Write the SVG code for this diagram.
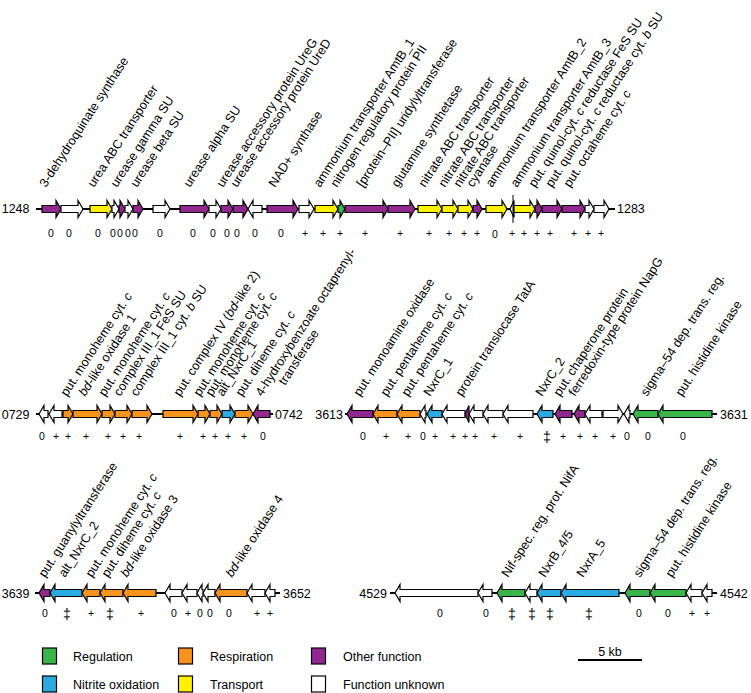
<svg xmlns="http://www.w3.org/2000/svg" width="751" height="693" viewBox="0 0 751 693">
<style>
.g{stroke:#000;stroke-width:1.2;stroke-linejoin:miter}
.cp{fill:#92278f}.co{fill:#f7941d}.cy{fill:#fff200}.cg{fill:#39b54a}.cb{fill:#29abe2}.cw{fill:#fff}
.bb{stroke:#000;stroke-width:2;fill:none}
.tk{stroke:#000;stroke-width:1;fill:none}
text{font-family:"Liberation Sans",Arial,sans-serif;fill:#000}
.lb{font-size:12.6px}
.num{font-size:10.5px;text-anchor:middle}
.dg{font-size:14px;text-anchor:middle}
.s{font-size:12.5px}
.e{text-anchor:end}
.it{font-style:italic}
</style>
<rect width="751" height="693" fill="#fff"/>
<g id="connectors">
<line class="bb" x1="36" y1="209" x2="615" y2="209"/>
<line class="bb" x1="36" y1="414" x2="273" y2="414"/>
<line class="bb" x1="345" y1="414" x2="717" y2="414"/>
<line class="bb" x1="35" y1="593" x2="280" y2="593"/>
<line class="bb" x1="390" y1="593" x2="717" y2="593"/>
</g>
<g id="row1">
<g id="r1g1"><path class="g cp" d="M42 205.5H56V200.5L61 209L56 217.5V212.5H42Z"/></g>
<g id="r1g2"><path class="g cw" d="M61 205.5H78V200.5L83 209L78 217.5V212.5H61Z"/></g>
<g id="r1g3"><path class="g cy" d="M90 205.5H107V200.5L112 209L107 217.5V212.5H90Z"/></g>
<g id="r1g4"><path class="g cw" d="M112 205.5H114V200.5L119 209L114 217.5V212.5H112Z"/></g>
<g id="r1g5"><path class="g cp" d="M119 205.5H120V200.5L125 209L120 217.5V212.5H119Z"/></g>
<g id="r1g6"><path class="g cw" d="M125 205.5H128V200.5L133 209L128 217.5V212.5H125Z"/></g>
<g id="r1g7"><path class="g cp" d="M133 205.5H138V200.5L143 209L138 217.5V212.5H133Z"/></g>
<g id="r1g8"><path class="g cw" d="M153 205.5H165V200.5L170 209L165 217.5V212.5H153Z"/></g>
<g id="r1g9"><path class="g cp" d="M180 205.5H204V200.5L209 209L204 217.5V212.5H180Z"/></g>
<g id="r1g10"><path class="g cw" d="M209 205.5H216V200.5L221 209L216 217.5V212.5H209Z"/></g>
<g id="r1g11"><path class="g cp" d="M221 205.5H228V200.5L233 209L228 217.5V212.5H221Z"/></g>
<g id="r1g12"><path class="g cp" d="M233 205.5H243V200.5L248 209L243 217.5V212.5H233Z"/></g>
<g id="r1g13"><path class="g cw" d="M262 205.5H253V200.5L248 209L253 217.5V212.5H262Z"/></g>
<g id="r1g14"><path class="g cp" d="M267 205.5H293V200.5L298 209L293 217.5V212.5H267Z"/></g>
<g id="r1g15"><path class="g cw" d="M299 205.5H309V200.5L314 209L309 217.5V212.5H299Z"/></g>
<g id="r1g16"><path class="g cy" d="M315 205.5H333V200.5L338 209L333 217.5V212.5H315Z"/></g>
<g id="r1g17"><path class="g cg" d="M338 205.5H340V200.5L345 209L340 217.5V212.5H338Z"/></g>
<g id="r1g18"><path class="g cp" d="M345 205.5H383V200.5L388 209L383 217.5V212.5H345Z"/></g>
<g id="r1g19"><path class="g cp" d="M388 205.5H410V200.5L415 209L410 217.5V212.5H388Z"/></g>
<g id="r1g20"><path class="g cy" d="M418 205.5H437V200.5L442 209L437 217.5V212.5H418Z"/></g>
<g id="r1g21"><path class="g cy" d="M442 205.5H453V200.5L458 209L453 217.5V212.5H442Z"/></g>
<g id="r1g22"><path class="g cy" d="M458 205.5H468V200.5L473 209L468 217.5V212.5H458Z"/></g>
<g id="r1g23"><path class="g cp" d="M473 205.5H477V200.5L482 209L477 217.5V212.5H473Z"/></g>
<g id="r1g24"><path class="g cy" d="M486 205.5H502V200.5L507 209L502 217.5V212.5H486Z"/></g>
<g id="r1g25"><path class="g cw" d="M514 200.5L510 209L514 217.5Z"/><line class="tk" x1="513" y1="195" x2="513" y2="223"/></g>
<g id="r1g26"><path class="g cy" d="M514 205.5H530V200.5L535 209L530 217.5V212.5H514Z"/></g>
<g id="r1g27"><path class="g cp" d="M535 205.5H537V200.5L542 209L537 217.5V212.5H535Z"/></g>
<g id="r1g28"><path class="g cp" d="M542 205.5H557V200.5L562 209L557 217.5V212.5H542Z"/></g>
<g id="r1g29"><path class="g cp" d="M562 205.5H580V200.5L585 209L580 217.5V212.5H562Z"/></g>
<g id="r1g30"><path class="g cw" d="M585 205.5H589V200.5L594 209L589 217.5V212.5H585Z"/></g>
<g id="r1g31"><path class="g cw" d="M594 205.5H604V200.5L609 209L604 217.5V212.5H594Z"/></g>
</g>
<g id="row2">
<g id="r2g1"><path class="g cw" d="M48 410.5H44V405.5L39 414L44 422.5V417.5H48Z"/></g>
<g id="r2g2"><path class="g cw" d="M62 410.5H54V405.5L49 414L54 422.5V417.5H62Z"/></g>
<g id="r2g3"><path class="g co" d="M63 410.5H68V405.5L73 414L68 422.5V417.5H63Z"/></g>
<g id="r2g4"><path class="g co" d="M73 410.5H97V405.5L102 414L97 422.5V417.5H73Z"/></g>
<g id="r2g5"><path class="g co" d="M102 410.5H110V405.5L115 414L110 422.5V417.5H102Z"/></g>
<g id="r2g6"><path class="g co" d="M115 410.5H127V405.5L132 414L127 422.5V417.5H115Z"/></g>
<g id="r2g7"><path class="g co" d="M132 410.5H147V405.5L152 414L147 422.5V417.5H132Z"/></g>
<g id="r2g8"><path class="g co" d="M163 410.5H193V405.5L198 414L193 422.5V417.5H163Z"/></g>
<g id="r2g9"><path class="g co" d="M198 410.5H205V405.5L210 414L205 422.5V417.5H198Z"/></g>
<g id="r2g10"><path class="g co" d="M210 410.5H217V405.5L222 414L217 422.5V417.5H210Z"/></g>
<g id="r2g11"><path class="g cb" d="M222 410.5H230V405.5L235 414L230 422.5V417.5H222Z"/></g>
<g id="r2g12"><path class="g co" d="M235 410.5H248V405.5L253 414L248 422.5V417.5H235Z"/></g>
<g id="r2g13"><path class="g cp" d="M270 410.5H258V405.5L253 414L258 422.5V417.5H270Z"/></g>
<g id="r2g14"><path class="g cp" d="M373 410.5H352V405.5L347 414L352 422.5V417.5H373Z"/></g>
<g id="r2g15"><path class="g co" d="M397 410.5H378V405.5L373 414L378 422.5V417.5H397Z"/></g>
<g id="r2g16"><path class="g co" d="M420 410.5H402V405.5L397 414L402 422.5V417.5H420Z"/></g>
<g id="r2g17"><path class="g cw" d="M426 410.5H425V405.5L420 414L425 422.5V417.5H426Z"/></g>
<g id="r2g18"><path class="g cb" d="M442 410.5H432V405.5L427 414L432 422.5V417.5H442Z"/></g>
<g id="r2g19"><path class="g cw" d="M465 410.5H447V405.5L442 414L447 422.5V417.5H465Z"/></g>
<g id="r2g20"><path class="g cp" d="M469 405.5L465 414L469 422.5Z"/></g>
<g id="r2g21"><path class="g cw" d="M483 410.5H474V405.5L469 414L474 422.5V417.5H483Z"/></g>
<g id="r2g22"><path class="g cw" d="M503 410.5H488V405.5L483 414L488 422.5V417.5H503Z"/></g>
<g id="r2g23"><path class="g cw" d="M533 410.5H508V405.5L503 414L508 422.5V417.5H533Z"/></g>
<g id="r2g24"><path class="g cb" d="M553 410.5H542V405.5L537 414L542 422.5V417.5H553Z"/></g>
<g id="r2g25"><path class="g cp" d="M572 410.5H560V405.5L555 414L560 422.5V417.5H572Z"/></g>
<g id="r2g26"><path class="g cp" d="M585 410.5H579V405.5L574 414L579 422.5V417.5H585Z"/></g>
<g id="r2g27"><path class="g cw" d="M602 410.5H590V405.5L585 414L590 422.5V417.5H602Z"/></g>
<g id="r2g28"><path class="g cw" d="M603 410.5H618V405.5L623 414L618 422.5V417.5H603Z"/></g>
<g id="r2g29"><path class="g cw" d="M630 410.5H629V405.5L624 414L629 422.5V417.5H630Z"/></g>
<g id="r2g30"><path class="g cg" d="M658 410.5H638V405.5L633 414L638 422.5V417.5H658Z"/></g>
<g id="r2g31"><path class="g cg" d="M712 410.5H663V405.5L658 414L663 422.5V417.5H712Z"/></g>
</g>
<g id="row3">
<g id="r3g1"><path class="g cp" d="M50 589.5H44V584.5L39 593L44 601.5V596.5H50Z"/></g>
<g id="r3g2"><path class="g cb" d="M82 589.5H55V584.5L50 593L55 601.5V596.5H82Z"/></g>
<g id="r3g3"><path class="g co" d="M100 589.5H87V584.5L82 593L87 601.5V596.5H100Z"/></g>
<g id="r3g4"><path class="g co" d="M123 589.5H105V584.5L100 593L105 601.5V596.5H123Z"/></g>
<g id="r3g5"><path class="g co" d="M156 589.5H128V584.5L123 593L128 601.5V596.5H156Z"/></g>
<g id="r3g6"><path class="g cw" d="M182 589.5H170V584.5L165 593L170 601.5V596.5H182Z"/></g>
<g id="r3g7"><path class="g cw" d="M197 589.5H187V584.5L182 593L187 601.5V596.5H197Z"/></g>
<g id="r3g8"><path class="g cw" d="M203 589.5H202V584.5L197 593L202 601.5V596.5H203Z"/></g>
<g id="r3g9"><path class="g cw" d="M215 589.5H208V584.5L203 593L208 601.5V596.5H215Z"/></g>
<g id="r3g10"><path class="g co" d="M247 589.5H220V584.5L215 593L220 601.5V596.5H247Z"/></g>
<g id="r3g11"><path class="g cw" d="M265 589.5H252V584.5L247 593L252 601.5V596.5H265Z"/></g>
<g id="r3g12"><path class="g cw" d="M275 589.5H270V584.5L265 593L270 601.5V596.5H275Z"/></g>
<g id="r3g13"><path class="g cw" d="M478 589.5H400V584.5L395 593L400 601.5V596.5H478Z"/></g>
<g id="r3g14"><path class="g cw" d="M492 589.5H483V584.5L478 593L483 601.5V596.5H492Z"/></g>
<g id="r3g15"><path class="g cg" d="M525 589.5H502V584.5L497 593L502 601.5V596.5H525Z"/></g>
<g id="r3g16"><path class="g cw" d="M537 589.5H530V584.5L525 593L530 601.5V596.5H537Z"/></g>
<g id="r3g17"><path class="g cb" d="M561 589.5H542V584.5L537 593L542 601.5V596.5H561Z"/></g>
<g id="r3g18"><path class="g cb" d="M619 589.5H566V584.5L561 593L566 601.5V596.5H619Z"/></g>
<g id="r3g19"><path class="g cg" d="M650 589.5H630V584.5L625 593L630 601.5V596.5H650Z"/></g>
<g id="r3g20"><path class="g cg" d="M686 589.5H655V584.5L650 593L655 601.5V596.5H686Z"/></g>
<g id="r3g21"><path class="g cw" d="M702 589.5H691V584.5L686 593L691 601.5V596.5H702Z"/></g>
<g id="r3g22"><path class="g cw" d="M712 589.5H707V584.5L702 593L707 601.5V596.5H712Z"/></g>
</g>
<g id="ends">
<text class="s e" x="29.5" y="213">1248</text>
<text class="s" x="617" y="213">1283</text>
<text class="s e" x="29.5" y="418.5">0729</text>
<text class="s" x="275" y="418.5">0742</text>
<text class="s e" x="343" y="418.5">3613</text>
<text class="s" x="720" y="418.5">3631</text>
<text class="s e" x="29.5" y="597.5">3639</text>
<text class="s" x="283" y="597.5">3652</text>
<text class="s e" x="387" y="597.5">4529</text>
<text class="s" x="720" y="597.5">4542</text>
</g>
<g id="labels1">
<text class="lb" transform="translate(46,188) rotate(-57)">3-dehydroquinate synthase</text>
<text class="lb" transform="translate(94,188) rotate(-57)">urea ABC transporter</text>
<text class="lb" transform="translate(117,188) rotate(-57)">urease gamma SU</text>
<text class="lb" transform="translate(137,188) rotate(-57)">urease beta SU</text>
<text class="lb" transform="translate(190,188) rotate(-57)">urease alpha SU</text>
<text class="lb" transform="translate(223,188) rotate(-57)">urease accessory protein UreG</text>
<text class="lb" transform="translate(237,188) rotate(-57)">urease accessory protein UreD</text>
<text class="lb" transform="translate(275,188) rotate(-57)">NAD+ synthase</text>
<text class="lb" transform="translate(320,188) rotate(-57)">ammonium transporter AmtB_1</text>
<text class="lb" transform="translate(337,188) rotate(-57)">nitrogen regulatory protein PII</text>
<text class="lb" transform="translate(363,188) rotate(-57)">[protein–PII] uridylyltransferase</text>
<text class="lb" transform="translate(398,188) rotate(-57)">glutamine synthetase</text>
<text class="lb" transform="translate(425,188) rotate(-57)">nitrate ABC transporter</text>
<text class="lb" transform="translate(445,188) rotate(-57)">nitrate ABC transporter</text>
<text class="lb" transform="translate(460,188) rotate(-57)">nitrate ABC transporter</text>
<text class="lb" transform="translate(473,188) rotate(-57)">cyanase</text>
<text class="lb" transform="translate(492,188) rotate(-57)">ammonium transporter AmtB_2</text>
<text class="lb" transform="translate(517,188) rotate(-57)">ammonium transporter AmtB_3</text>
<text class="lb" transform="translate(535,188) rotate(-57)">put. quinol-cyt. <tspan class="it">c</tspan> reductase FeS SU</text>
<text class="lb" transform="translate(552,188) rotate(-57)">put. quinol-cyt. <tspan class="it">c</tspan> reductase cyt. <tspan class="it">b</tspan> SU</text>
<text class="lb" transform="translate(570,188) rotate(-57)">put. octaheme cyt. <tspan class="it">c</tspan></text>
</g>
<g id="labels2">
<text class="lb" transform="translate(67,397) rotate(-57)">put. monoheme cyt. <tspan class="it">c</tspan></text>
<text class="lb" transform="translate(85,397) rotate(-57)"><tspan class="it">bd</tspan>-like oxidase 1</text>
<text class="lb" transform="translate(105,397) rotate(-57)">put. monoheme cyt. <tspan class="it">c</tspan></text>
<text class="lb" transform="translate(120,397) rotate(-57)">complex III_1 FeS SU</text>
<text class="lb" transform="translate(137,397) rotate(-57)">complex III_1 cyt. <tspan class="it">b</tspan> SU</text>
<text class="lb" transform="translate(180,397) rotate(-57)">put. complex IV (<tspan class="it">bd</tspan>-like 2)</text>
<text class="lb" transform="translate(200,397) rotate(-57)">put. monoheme cyt. <tspan class="it">c</tspan></text>
<text class="lb" transform="translate(212,397) rotate(-57)">put. monoheme cyt. <tspan class="it">c</tspan></text>
<text class="lb" transform="translate(223,397) rotate(-57)">alt_NxrC_1</text>
<text class="lb" transform="translate(242,397) rotate(-57)">put. diheme cyt. <tspan class="it">c</tspan></text>
<text class="lb" transform="translate(262,397) rotate(-57)">4-hydroxybenzoate octaprenyl-</text>
<text class="lb" transform="translate(285,386) rotate(-57)">transferase</text>
<text class="lb" transform="translate(360,397) rotate(-57)">put. monoamine oxidase</text>
<text class="lb" transform="translate(387,397) rotate(-57)">put. pentaheme cyt. <tspan class="it">c</tspan></text>
<text class="lb" transform="translate(408,397) rotate(-57)">put. pentaheme cyt. <tspan class="it">c</tspan></text>
<text class="lb" transform="translate(430,397) rotate(-57)">NxrC_1</text>
<text class="lb" transform="translate(462,397) rotate(-57)">protein translocase TatA</text>
<text class="lb" transform="translate(542,397) rotate(-57)">NxrC_2</text>
<text class="lb" transform="translate(560,397) rotate(-57)">put. chaperone protein</text>
<text class="lb" transform="translate(575,397) rotate(-57)">ferredoxin-type protein NapG</text>
<text class="lb" transform="translate(647,397) rotate(-57)">sigma–54 dep. trans. reg.</text>
<text class="lb" transform="translate(682,397) rotate(-57)">put. histidine kinase</text>
</g>
<g id="labels3">
<text class="lb" transform="translate(45,578) rotate(-57)">put. guanylyltransferase</text>
<text class="lb" transform="translate(65,578) rotate(-57)">alt_NxrC_2</text>
<text class="lb" transform="translate(92,578) rotate(-57)">put. monoheme cyt. <tspan class="it">c</tspan></text>
<text class="lb" transform="translate(108,578) rotate(-57)">put. diheme cyt. <tspan class="it">c</tspan></text>
<text class="lb" transform="translate(127,578) rotate(-57)"><tspan class="it">bd</tspan>-like oxidase 3</text>
<text class="lb" transform="translate(232,578) rotate(-57)"><tspan class="it">bd</tspan>-like oxidase 4</text>
<text class="lb" transform="translate(508,578) rotate(-57)">Nif-spec. reg. prot. NifA</text>
<text class="lb" transform="translate(545,578) rotate(-57)">NxrB_4/5</text>
<text class="lb" transform="translate(583,578) rotate(-57)">NxrA_5</text>
<text class="lb" transform="translate(640,578) rotate(-57)">sigma–54 dep. trans. reg.</text>
<text class="lb" transform="translate(672,578) rotate(-57)">put. histidine kinase</text>
</g>
<g id="numbers1">
<text class="num" x="51" y="236.5">0</text><text class="num" x="69" y="236.5">0</text><text class="num" x="98" y="236.5">0</text>
<text class="num" x="113" y="236.5">0</text><text class="num" x="120" y="236.5">0</text><text class="num" x="128" y="236.5">0</text><text class="num" x="135" y="236.5">0</text>
<text class="num" x="160" y="236.5">0</text><text class="num" x="193" y="236.5">0</text><text class="num" x="213" y="236.5">0</text><text class="num" x="227" y="236.5">0</text>
<text class="num" x="237" y="236.5">0</text><text class="num" x="255" y="236.5">0</text><text class="num" x="281" y="236.5">0</text>
<text class="num" x="305" y="236.5">+</text><text class="num" x="323" y="236.5">+</text><text class="num" x="340" y="236.5">+</text><text class="num" x="365" y="236.5">+</text>
<text class="num" x="400" y="236.5">+</text><text class="num" x="429" y="236.5">+</text><text class="num" x="449" y="236.5">+</text><text class="num" x="464" y="236.5">+</text>
<text class="num" x="477" y="236.5">+</text><text class="num" x="495" y="237.5">0</text><text class="num" x="512" y="236.5">+</text><text class="num" x="524" y="236.5">+</text>
<text class="num" x="537" y="236.5">+</text><text class="num" x="550" y="236.5">+</text><text class="num" x="574" y="236.5">+</text><text class="num" x="588" y="236.5">+</text><text class="num" x="601" y="236.5">+</text>
</g>
<g id="numbers2">
<text class="num" x="42" y="440">0</text><text class="num" x="56" y="440">+</text><text class="num" x="68" y="440">+</text><text class="num" x="86" y="440">+</text>
<text class="num" x="108" y="440">+</text><text class="num" x="123" y="440">+</text><text class="num" x="139" y="440">+</text><text class="num" x="180" y="440">+</text>
<text class="num" x="203" y="440">+</text><text class="num" x="215" y="440">+</text><text class="num" x="228" y="440">+</text><text class="num" x="244" y="440">+</text><text class="num" x="263" y="440">0</text>
<text class="num" x="363" y="440">0</text><text class="num" x="386" y="440">+</text><text class="num" x="408" y="440">+</text><text class="num" x="423" y="440">0</text>
<text class="num" x="435" y="440">+</text><text class="num" x="453" y="440">+</text><text class="num" x="465" y="440">+</text><text class="num" x="475" y="440">+</text>
<text class="num" x="494" y="440">+</text><text class="num" x="520" y="440">+</text><text class="dg" x="547" y="442">‡</text><text class="num" x="563" y="440">+</text>
<text class="num" x="580" y="440">+</text><text class="num" x="595" y="440">+</text><text class="num" x="613" y="440">+</text><text class="num" x="627" y="440">0</text>
<text class="num" x="648" y="440">0</text><text class="num" x="683" y="440">0</text>
</g>
<g id="numbers3">
<text class="num" x="45" y="617">0</text><text class="dg" x="67" y="619">‡</text><text class="num" x="91" y="617">+</text><text class="dg" x="110" y="619">‡</text>
<text class="num" x="141" y="617">+</text><text class="num" x="174" y="617">0</text><text class="num" x="188" y="617">+</text><text class="num" x="200" y="617">0</text>
<text class="num" x="210" y="617">0</text><text class="num" x="229" y="617">0</text><text class="num" x="257" y="617">+</text><text class="num" x="270" y="617">+</text>
<text class="num" x="440" y="617">0</text><text class="num" x="486" y="617">0</text><text class="dg" x="512" y="619">‡</text><text class="dg" x="532" y="619">‡</text>
<text class="dg" x="550" y="619">‡</text><text class="dg" x="589" y="619">‡</text><text class="num" x="639" y="617">0</text><text class="num" x="668" y="617">0</text>
<text class="num" x="692" y="617">+</text><text class="num" x="707" y="617">+</text>
</g>
<g id="legend">
<rect class="g cg" x="42.5" y="648" width="14" height="16"/>
<text class="s" x="73" y="661">Regulation</text>
<rect class="g cb" x="42.5" y="676" width="14" height="16"/>
<text class="s" x="73" y="689">Nitrite oxidation</text>
<rect class="g co" x="178.5" y="648" width="14" height="16"/>
<text class="s" x="210" y="661">Respiration</text>
<rect class="g cy" x="178.5" y="676" width="14" height="16"/>
<text class="s" x="210" y="689">Transport</text>
<rect class="g cp" x="311.5" y="648" width="14" height="16"/>
<text class="s" x="343" y="661">Other function</text>
<rect class="g cw" x="311.5" y="676" width="14" height="16"/>
<text class="s" x="343" y="689">Function unknown</text>
<line class="bb" x1="578" y1="660" x2="642" y2="660"/>
<text class="s" x="610" y="656" text-anchor="middle">5 kb</text>
</g>
</svg>
